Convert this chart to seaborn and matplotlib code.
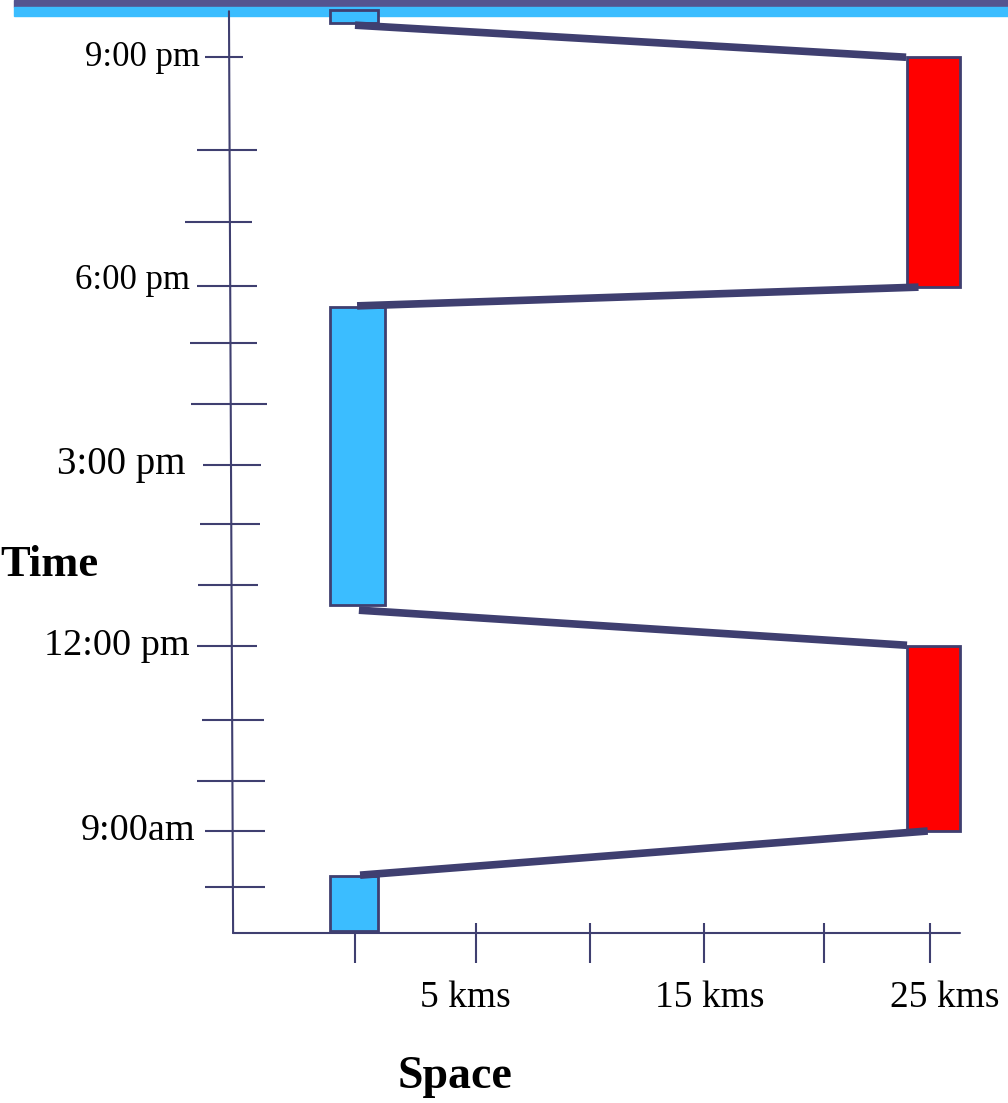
import matplotlib
matplotlib.use("Agg")
import matplotlib.pyplot as plt
import seaborn as sns
import pandas as pd

# stays (km along x, hours of the day along y)
stay_place = ["home", "work", "home", "work", "home"]
stay_left = [-1.09, 24.0, -1.09, 24.0, -1.09]
stay_right = [1.0, 26.3, 1.3, 26.3, 1.0]
stay_start = [7.35, 9.0, 12.74, 18.0, 22.36]
stay_end = [8.26, 12.06, 17.66, 21.79, 22.57]

# trips between the stays
trip_x0 = [0.22, 0.17, 0.09, 0.0]
trip_t0 = [8.27, 12.65, 17.68, 22.32]
trip_x1 = [24.9, 24.0, 24.5, 23.96]
trip_t1 = [9.0, 12.07, 17.99, 21.79]

# time axis
time_ticks = [9.0, 12.06, 15.05, 18.01, 21.79]
time_labels = ["9:00am", "12:00 pm", "3:00 pm", "6:00 pm", "9:00 pm"]
minor_ticks = [8.07, 9.83, 10.83, 13.07, 14.07, 16.06, 17.07, 19.07, 20.26]

# space axis
space_ticks = [0, 5.26, 10.22, 15.17, 20.39, 25.0]
space_labels = ["5 kms", "15 kms", "25 kms"]
space_label_x = [4.78, 15.43, 25.65]

colors = {"home": "#3bbdff", "work": "#ff0000"}
navy = "#3f3f70"

sns.set_theme(style="white")
plt.rcParams["font.family"] = ["Liberation Serif", "DejaVu Serif"]
plt.rcParams["text.color"] = "black"

fig = plt.figure(figsize=(10.08, 11.03), dpi=100)
ax = fig.add_axes([0, 0, 1, 1])
ax.set_xlim(-15.435, 28.391)
ax.set_ylim(4.504, 22.736)
ax.axis("off")

# banner at the top
ax.add_patch(plt.Rectangle((14 / 1008, 1 - 7 / 1103), 1, 7 / 1103,
                           transform=ax.transAxes, color="#545490", zorder=1))
ax.add_patch(plt.Rectangle((14 / 1008, 1 - 16 / 1103), 1, 9 / 1103,
                           transform=ax.transAxes, color="#3bbdff", zorder=1))

stays = pd.DataFrame({"place": stay_place, "left": stay_left, "right": stay_right,
                      "start": stay_start, "end": stay_end})

# axis lines
ax.plot([-5.48, -5.30], [22.55, 7.314], color=navy, lw=1.5, zorder=2)
ax.plot([-5.30, 26.3], [7.314, 7.314], color=navy, lw=1.5, zorder=2)

# time ticks (hand drawn, uneven lengths)
tick_left = [-6.52, -6.87, -6.61, -6.87, -6.52]
tick_right = [-3.91, -4.26, -4.09, -4.26, -4.87]
ax.hlines(time_ticks, tick_left, tick_right, color=navy, lw=1.5)
minor_left = [-6.52, -6.87, -6.65, -6.83, -6.74, -7.13, -7.17, -7.39, -6.87]
minor_right = [-3.91, -3.91, -3.96, -4.22, -4.13, -3.83, -4.26, -4.48, -4.26]
ax.hlines(minor_ticks, minor_left, minor_right, color=navy, lw=1.5)

# the text boxes on the slide are not all the same size
label_right = [-6.96, -7.17, -7.35, -7.17, -6.74]
label_y = [9.0, 12.06, 15.05, 18.1, 21.79]
label_size = [27.5, 27.5, 28, 25, 25]
for x, y, s, fs in zip(label_right, label_y, time_labels, label_size):
    ax.text(x, y, s, ha="right", va="center", fontsize=fs)

# space ticks
ax.vlines(space_ticks[0], 6.818, 7.314, color=navy, lw=1.5)
ax.vlines(space_ticks[1:], 6.818, 7.479, color=navy, lw=1.5)
for x, s in zip(space_label_x, space_labels):
    ax.text(x, 6.24, s, ha="center", va="center", fontsize=27)

ax.text(-15.4, 13.40, "Time", ha="left", va="center", fontsize=32, fontweight="bold")
ax.text(4.35, 4.93, "Space", ha="center", va="center", fontsize=33, fontweight="bold")

# stays as bars
for _, r in stays.iterrows():
    ax.bar(r["left"], r["end"] - r["start"], width=r["right"] - r["left"],
           bottom=r["start"], align="edge", color=colors[r["place"]],
           edgecolor=navy, linewidth=2, zorder=3)

# trips
for x0, t0, x1, t1 in zip(trip_x0, trip_t0, trip_x1, trip_t1):
    ax.plot([x0, x1], [t0, t1], color=navy, lw=5.5, solid_capstyle="butt", zorder=4)

fig.savefig("out.png", dpi=100)
